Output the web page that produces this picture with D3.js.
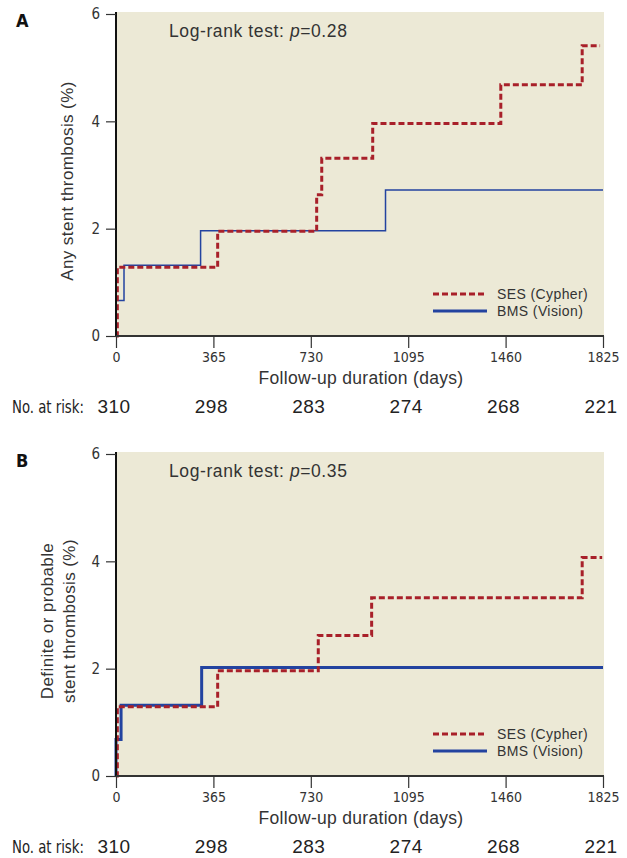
<!DOCTYPE html>
<html>
<head>
<meta charset="utf-8">
<script src="https://cdn.jsdelivr.net/npm/d3@7"></script>
<style>
  body { margin: 0; background: #fff; }
  svg { display: block; }
  .narrow { font-family: 'DejaVu Sans', sans-serif; font-stretch: condensed; }
</style>
</head>
<body>
<div class="area"></div>
<script>
// tick labels and risk table
var xTicks = [0, 365, 730, 1095, 1460, 1825];
var yTicks = [0, 2, 4, 6];
var atRisk = [310, 298, 283, 274, 268, 221];

// panel A: any stent thrombosis
var sesA_days = [0, 5, 381, 752, 771, 962, 1442, 1747, 1814];
var sesA_vals = [0, 1.28, 1.95, 2.63, 3.31, 3.96, 4.68, 5.41, 5.41];
var bmsA_days = [0, 0, 30, 317, 1010, 1825];
var bmsA_vals = [0, 0.66, 1.32, 1.96, 2.72, 2.72];

// panel B: definite or probable
var sesB_days = [0, 5, 381, 758, 958, 1747, 1822];
var sesB_vals = [0, 1.29, 1.96, 2.62, 3.32, 4.07, 4.07];
var bmsB_days = [0, 0, 19, 321, 1825];
var bmsB_vals = [0, 0.68, 1.32, 2.02, 2.02];

var width = 627, height = 858;
var red = "#a8202a", blue = "#2343a0", bg = "#ece9d6";
var sans = "'Liberation Sans', Arial, sans-serif";

var svg = d3.select(".area")
  .append("svg")
    .attr("width", width)
    .attr("height", height);

function zip(days, vals) {
  return days.map(function(d, i) { return {t: d, v: vals[i]}; });
}

function drawPanel(top, letter, pval, ytitle, ses, bms, bmsWidth) {
  var x = d3.scaleLinear().domain([0, 1825]).range([116, 603]);
  var y = d3.scaleLinear().domain([0, 6]).range([top + 322, top]);
  var g = svg.append("g");

  // background
  g.append("rect")
    .attr("x", x(0)).attr("y", y(6) - 2)
    .attr("width", x(1825) - x(0) + 1).attr("height", y(0) - y(6) + 2)
    .attr("fill", bg);

  var line = d3.line()
    .x(function(d) { return x(d.t); })
    .y(function(d) { return y(d.v); })
    .curve(d3.curveStepAfter);

  g.append("path")
    .datum(bms)
    .attr("fill", "none")
    .attr("stroke", blue)
    .attr("stroke-width", bmsWidth)
    .attr("d", line);

  g.append("path")
    .datum(ses)
    .attr("fill", "none")
    .attr("stroke", red)
    .attr("stroke-width", 3)
    .attr("stroke-dasharray", "6,3")
    .attr("d", line);

  // axes
  var yAxis = g.append("g")
    .attr("transform", "translate(" + x(0) + ",0)")
    .call(d3.axisLeft(y).tickValues(yTicks).tickFormat(d3.format("d")).tickSize(10).tickPadding(6));
  yAxis.select(".domain").attr("d", "M0," + (y(6) - 2) + "V" + y(0)).attr("stroke", "#111").attr("stroke-width", 2);
  yAxis.selectAll(".tick line").attr("stroke", "#333").attr("stroke-width", 1.2);
  yAxis.selectAll(".tick text").attr("class", "narrow").attr("font-size", 15).attr("fill", "#333");

  var xAxis = g.append("g")
    .attr("transform", "translate(0," + y(0) + ")")
    .call(d3.axisBottom(x).tickValues(xTicks).tickFormat(d3.format("d")).tickSize(12).tickPadding(4));
  xAxis.select(".domain").attr("d", "M" + x(0) + ",0H" + (x(1825) + 1)).attr("stroke", "#333").attr("stroke-width", 2);
  xAxis.selectAll(".tick line").attr("stroke", "#333").attr("stroke-width", 1.2);
  xAxis.selectAll(".tick text").attr("class", "narrow").attr("font-size", 14).attr("fill", "#333");

  // panel letter
  g.append("text")
    .attr("class", "narrow")
    .attr("x", 16).attr("y", top + 13)
    .attr("font-weight", "bold")
    .attr("font-size", 18).attr("fill", "#111")
    .text(letter);

  // log-rank
  var lr = g.append("text")
    .attr("x", 169).attr("y", top + 23)
    .attr("font-family", sans).attr("font-size", 17.5)
    .attr("letter-spacing", 0.6).attr("fill", "#333");
  lr.append("tspan").text("Log-rank test: ");
  lr.append("tspan").attr("font-style", "italic").text("p");
  lr.append("tspan").text("=" + pval);

  // y title
  var yt = g.append("text")
    .attr("transform", "translate(0," + ((y(0) + y(6)) / 2 + 6) + ") rotate(-90)")
    .attr("text-anchor", "middle")
    .attr("font-family", sans).attr("font-size", 17)
    .attr("letter-spacing", 0.4).attr("fill", "#333");
  if (ytitle.length === 1) {
    yt.append("tspan").attr("x", 0).attr("y", 73).text(ytitle[0]);
  } else {
    yt.append("tspan").attr("x", 0).attr("y", 53).text(ytitle[0]);
    yt.append("tspan").attr("x", 0).attr("y", 75).text(ytitle[1]);
  }

  // legend
  var leg = [{name: "SES (Cypher)", c: red, dash: "6,3", w: 3},
             {name: "BMS (Vision)", c: blue, dash: null, w: 3}];
  leg.forEach(function(d, i) {
    var ly = top + 280 + i * 17;
    g.append("line")
      .attr("x1", 433).attr("x2", 487).attr("y1", ly).attr("y2", ly)
      .attr("stroke", d.c).attr("stroke-width", d.w)
      .attr("stroke-dasharray", d.dash);
    g.append("text")
      .attr("x", 497).attr("y", ly + 5)
      .attr("font-family", sans).attr("font-size", 14)
      .attr("letter-spacing", 0.4).attr("fill", "#333")
      .text(d.name);
  });

  // x title
  g.append("text")
    .attr("x", 361).attr("y", y(0) + 48)
    .attr("text-anchor", "middle")
    .attr("font-family", sans).attr("font-size", 17.5)
    .attr("letter-spacing", 0.3).attr("fill", "#333")
    .text("Follow-up duration (days)");

  // number at risk
  g.append("text")
    .attr("class", "narrow")
    .attr("transform", "translate(12," + (y(0) + 77) + ") scale(0.82,1)")
    .attr("font-size", 18).attr("fill", "#222")
    .text("No. at risk:");
  g.selectAll(".risk")
    .data(atRisk)
    .enter()
    .append("text")
      .attr("x", function(d, i) { return x(xTicks[i]) - 2; })
      .attr("y", y(0) + 77)
      .attr("text-anchor", "middle")
      .attr("font-family", sans).attr("font-size", 19)
      .attr("letter-spacing", 0.5).attr("fill", "#222")
      .text(function(d) { return d; });
}

drawPanel(14, "A", "0.28", ["Any stent thrombosis (%)"],
  zip(sesA_days, sesA_vals), zip(bmsA_days, bmsA_vals), 1.5);
drawPanel(454, "B", "0.35", ["Definite or probable", "stent thrombosis (%)"],
  zip(sesB_days, sesB_vals), zip(bmsB_days, bmsB_vals), 3);
</script>
</body>
</html>
